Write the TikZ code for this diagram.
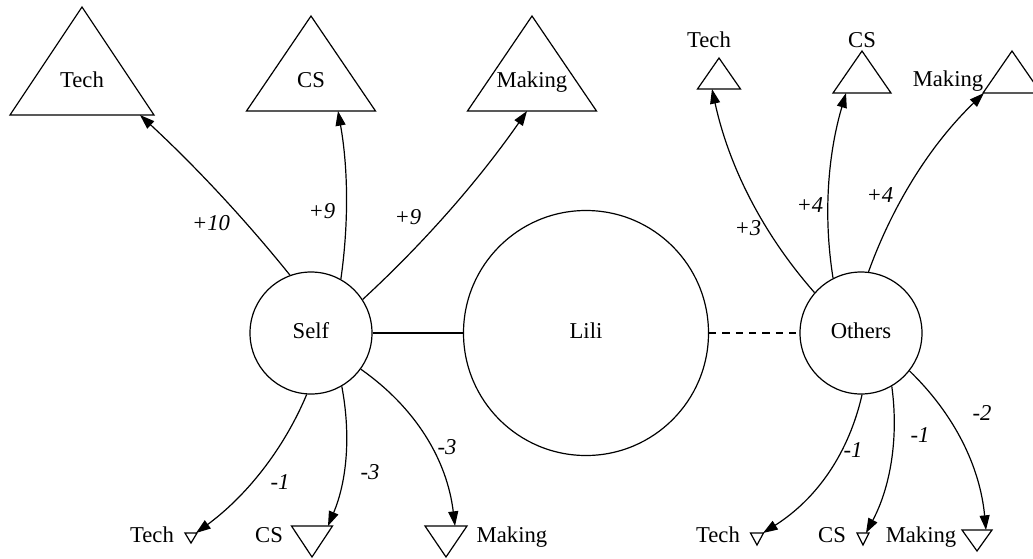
\documentclass[tikz,border=0pt]{standalone}
\usepackage{fontspec}
\setmainfont{Liberation Serif}
\usetikzlibrary{arrows.meta, shapes.geometric}

\begin{document}
\begin{tikzpicture}[
    x=0.75pt, y=-0.75pt,
    >={Triangle[length=11pt, width=7.5pt]},
    line width=0.9pt,
    txt/.style={font=\fontsize{17}{20}\selectfont, inner sep=0pt, text height=11.5pt, text depth=0pt},
    wt/.style={txt, font=\fontsize{17}{20}\selectfont\itshape},
    person/.style={draw, circle, txt, text depth=3pt, minimum size=91.5pt},
    tri/.style={draw, isosceles triangle, isosceles triangle stretches, inner sep=0pt, outer sep=0pt},
    gain/.style={tri, shape border rotate=90, anchor=apex},
    loss/.style={tri, shape border rotate=270, anchor=apex},
]
    \useasboundingbox (0,0) rectangle (1033,558);

    % the three people
    \node[person] (self) at (311,333) {Self};
    \node[person, minimum size=183.75pt] (lili) at (586,333) {Lili};
    \node[person] (others) at (861,333) {Others};
    \draw (self) -- (lili);
    \draw[dash pattern=on 5.5pt off 4.5pt] (lili) -- (others);

    % Self, positive
    \node[gain, minimum width=108pt, minimum height=81pt] (sTech) at (82,7) {};
    \node[gain, minimum width=96.75pt, minimum height=71.25pt] (sCS) at (311,16) {};
    \node[gain, minimum width=96.75pt, minimum height=71.25pt] (sMaking) at (532,16) {};
    \node[txt] (sTechTxt) at (82,80) {Tech};
    \node[txt] (sCSTxt) at (311,80) {CS};
    \node[txt] (sMakingTxt) at (532,80) {Making};

    % Self, negative
    \node[loss, minimum width=9pt, minimum height=7.5pt] (sTechN) at (191,543) {};
    \node[loss, minimum width=30.75pt, minimum height=23.25pt] (sCSN) at (312,557) {};
    \node[loss, minimum width=31.5pt, minimum height=23.25pt] (sMakingN) at (446,557) {};
    \node[txt] (sTechNTxt) at (152,535) {Tech};
    \node[txt] (sCSNTxt) at (269,535) {CS};
    \node[txt] (sMakingNTxt) at (512,535) {Making};

    % Others, positive
    \node[gain, minimum width=32.25pt, minimum height=23.25pt] (oTech) at (719,58) {};
    \node[gain, minimum width=43.5pt, minimum height=31.5pt] (oCS) at (862,51) {};
    \node[gain, minimum width=43.5pt, minimum height=31.5pt] (oMaking) at (1012,51) {};
    \node[txt] (oTechTxt) at (709,40) {Tech};
    \node[txt] (oCSTxt) at (862,40) {CS};
    \node[txt] (oMakingTxt) at (948,79) {Making};

    % Others, negative
    \node[loss, minimum width=9.75pt, minimum height=9pt] (oTechN) at (757,545) {};
    \node[loss, minimum width=9pt, minimum height=9pt] (oCSN) at (863,545) {};
    \node[loss, minimum width=22.5pt, minimum height=15.75pt] (oMakingN) at (977,551) {};
    \node[txt] (oTechNTxt) at (718,535) {Tech};
    \node[txt] (oCSNTxt) at (832,535) {CS};
    \node[txt] (oMakingNTxt) at (921,535) {Making};

    % weighted edges out of Self
    \draw[->] (self.110) .. controls (244,218) and (194,165) .. ([xshift=43.5pt]sTech.lower side);
    \draw[->] (self.61) .. controls (349,222) and (348,167) .. ([xshift=20.25pt]sCS.lower side);
    \draw[->] (self.33) .. controls (424,243) and (479,180) .. ([xshift=-3.75pt]sMaking.lower side);
    \draw[->] (self.-94) .. controls (283,451) and (245,497) .. ([xshift=3.75pt]sTechN.lower side);
    \draw[->] (self.-60) .. controls (351,435) and (347,481) .. ([xshift=12pt]sCSN.lower side);
    \draw[->] (self.-36) .. controls (416,408) and (447,460) .. ([xshift=6.75pt]sMakingN.lower side);
    \node[wt] (wSTech) at (211,223) {+10};
    \node[wt] (wSCS) at (322,211) {+9};
    \node[wt] (wSMaking) at (408,217) {+9};
    \node[wt] (wSTechN) at (280,482) {-1};
    \node[wt] (wSCSN) at (370,472) {-3};
    \node[wt] (wSMakingN) at (447,447) {-3};

    % weighted edges out of Others
    \draw[->] (others.139) .. controls (763,234) and (729,167) .. ([xshift=-5.25pt]oTech.lower side);
    \draw[->] (others.117) .. controls (823,215) and (828,154) .. ([xshift=-12pt]oCS.lower side);
    \draw[->] (others.83) .. controls (893,204) and (931,144) .. ([xshift=-21pt]oMaking.lower side);
    \draw[->] (others.-89) .. controls (849,452) and (818,498) .. ([xshift=4.5pt]oTechN.lower side);
    \draw[->] (others.-60) .. controls (899,439) and (890,488) .. ([xshift=2.25pt]oCSN.lower side);
    \draw[->] (others.-38) .. controls (955,415) and (980,467) .. ([xshift=6.75pt]oMakingN.lower side);
    \node[wt] (wOTech) at (748,228) {+3};
    \node[wt] (wOCS) at (810,205) {+4};
    \node[wt] (wOMaking) at (880,195) {+4};
    \node[wt] (wOTechN) at (853,450) {-1};
    \node[wt] (wOCSN) at (920,435) {-1};
    \node[wt] (wOMakingN) at (982,413) {-2};
\end{tikzpicture}
\end{document}
